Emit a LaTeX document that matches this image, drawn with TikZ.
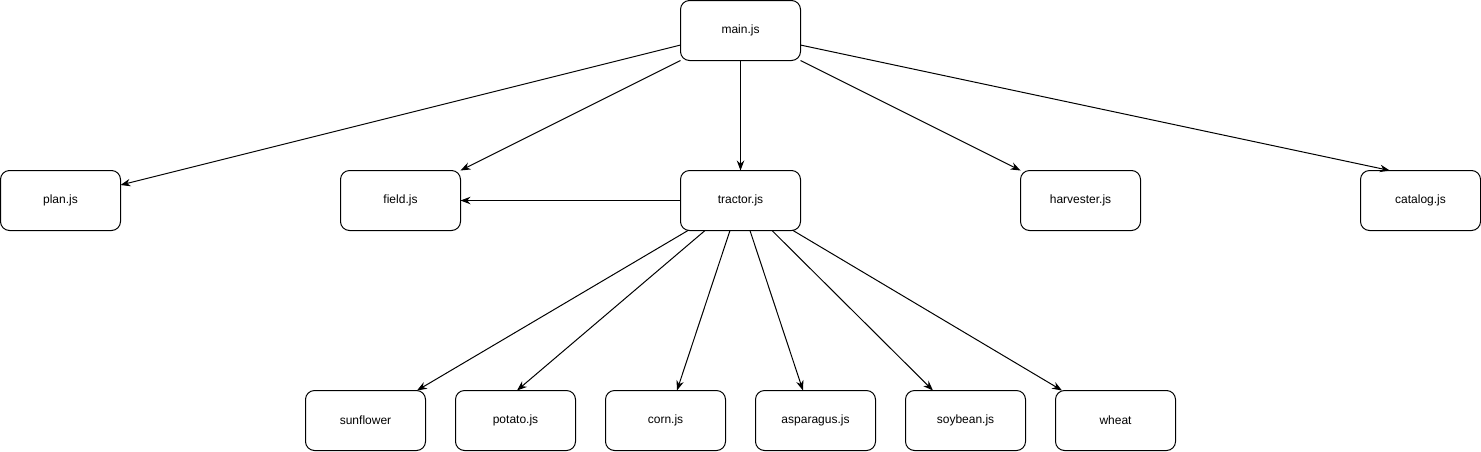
\documentclass[tikz,border=0pt]{standalone}
\usepackage{fontspec}
\setmainfont{Liberation Sans}
\usetikzlibrary{positioning,arrows.meta}
\tikzset{
	box/.style={draw, rounded corners=6.75pt, minimum width=90pt, minimum height=45pt, inner sep=0pt, outer sep=0pt, line width=0.75pt, font=\fontsize{9}{11}\selectfont},
	link/.style={line width=0.75pt, -{Stealth[length=7.5pt,width=5.6pt]}}
}
\begin{document}
\begin{tikzpicture}[x=0.75pt,y=-0.75pt]
\useasboundingbox (0,0) rectangle (1481,451);
	\node [box] (main) at (740.5,30.5) {main.js};
	\node [box, below=82.5pt of main] (tractor) {tractor.js};
	\node [box, left=165pt of tractor] (field) {field.js};
	\node [box, left=165pt of field] (plan) {plan.js};
	\node [box, right=165pt of tractor] (harvester) {harvester.js};
	\node [box, right=165pt of harvester] (catalog) {catalog.js};

	\node [box, below=120pt of tractor, xshift=-56.25pt] (corn) {corn.js};
	\node [box, left=22.5pt of corn] (potato) {potato.js};
	\node [box, left=22.5pt of potato] (sunflower) {sunflower};
	\node [box, right=22.5pt of corn] (asparagus) {asparagus.js};
	\node [box, right=22.5pt of asparagus] (soybean) {soybean.js};
	\node [box, right=22.5pt of soybean] (wheat) {wheat};

	\draw [link] ([yshift=-10.9pt]main.west) -- ([yshift=11.6pt]plan.east);
	\draw [link] (main.south west) -- (field.north east);
	\draw [link] (main.south) -- (tractor.north);
	\draw [link] (main.south east) -- (harvester.north west);
	\draw [link] ([yshift=-10.9pt]main.east) -- ([xshift=22pt]catalog.north west);
	\draw [link] (tractor.west) -- (field.east);

	\draw [link] ([xshift=5.6pt]tractor.south west) -- ([xshift=83.6pt]sunflower.north west);
	\draw [link] ([xshift=18.4pt]tractor.south west) -- ([xshift=1.1pt]potato.north);
	\draw [link] ([xshift=37.1pt]tractor.south west) -- ([xshift=8.6pt]corn.north);
	\draw [link] ([xshift=52.1pt]tractor.south west) -- ([xshift=-9.4pt]asparagus.north);
	\draw [link] ([xshift=68.6pt]tractor.south west) -- ([xshift=-24.4pt]soybean.north);
	\draw [link] ([xshift=84.4pt]tractor.south west) -- ([xshift=4.9pt]wheat.north west);
\end{tikzpicture}
\end{document}
